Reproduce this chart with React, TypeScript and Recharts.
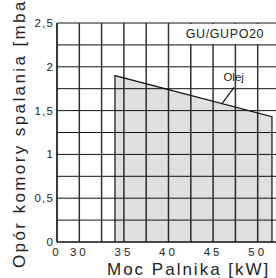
import React from 'react';
import {
  ComposedChart, Area, XAxis, YAxis, CartesianGrid, ReferenceLine, ReferenceArea, ReferenceDot, Label,
} from 'recharts';

// Burner power [kW] and combustion-chamber resistance [mbar] for the "Olej" envelope
const powerKW = [34, 34, 51.6, 51.6];
const resistanceMbar = [0, 1.9, 1.43, 0];

const xTicks = [27.5, 30, 32.5, 35, 37.5, 40, 42.5, 45, 47.5, 50, 52.5];
const yTicks = [0, 0.25, 0.5, 0.75, 1, 1.25, 1.5, 1.75, 2, 2.25, 2.5];

const seriesName = 'Olej';
const modelName = 'GU/GUPO20';
const xTitle = 'Moc Palnika [kW]';
const yTitle = 'Opór komory spalania [mbar]';

// pointer from "Olej" to the line
const pointerPower = [47.35, 45.96];
const pointerRes = [1.765, 1.575];
const seriesLabelAt = { x: 47.3, y: 1.885 };

const data = powerKW.map((p, i) => ({ p, r: resistanceMbar[i] }));

const FONT = '"Liberation Sans", Arial, sans-serif';

const fmtX = (v: number) => {
  if (v === 27.5) return '0';
  if (v % 5 === 0 && v <= 50) return String(v);
  return '';
};
const fmtY = (v: number) => (v % 0.5 === 0 ? String(v).replace('.', ',') : '');

export default function App() {
  return (
    <div style={{ position: 'absolute', left: 0, top: 0, width: 276, height: 278, overflow: 'hidden', background: '#fff' }}>
      <ComposedChart width={280} height={278} data={data} margin={{ top: 23, right: 0, bottom: 0, left: 0 }}>
        <CartesianGrid vertical={false} stroke="#111" strokeWidth={1} />
        <CartesianGrid horizontal={false} stroke="#333" strokeWidth={1.5} />
        <XAxis
          type="number"
          dataKey="p"
          domain={[27.5, 52.5]}
          ticks={xTicks}
          tickFormatter={fmtX}
          interval={0}
          height={36}
          tickLine={false}
          tickSize={6}
          tickMargin={0}
          axisLine={{ stroke: '#111', strokeWidth: 1 }}
          tick={{ fontSize: 11.5, fill: '#222', fontFamily: FONT, letterSpacing: 3 }}
          allowDataOverflow
        >
          <Label
            content={() => (
              <text x={107} y={275} fontSize={17} letterSpacing={2} fontFamily={FONT} fill="#222">
                {xTitle}
              </text>
            )}
          />
        </XAxis>
        <YAxis
          type="number"
          domain={[0, 2.5]}
          ticks={yTicks}
          tickFormatter={fmtY}
          interval={0}
          width={57}
          tickLine={false}
          tickSize={3}
          tickMargin={0}
          axisLine={{ stroke: '#111', strokeWidth: 1 }}
          tick={{ fontSize: 11.5, fill: '#222', fontFamily: FONT, letterSpacing: 1.2 }}
        >
          <Label
            content={() => (
              <text
                x={0}
                y={0}
                transform="translate(25,268) rotate(-90)"
                fontSize={17}
                letterSpacing={2.4}
                fontFamily={FONT}
                fill="#222"
              >
                {yTitle}
              </text>
            )}
          />
        </YAxis>
        <Area
          type="linear"
          dataKey="r"
          stroke="#111"
          strokeWidth={1.2}
          fill="#000"
          fillOpacity={0.12}
          isAnimationActive={false}
          dot={false}
          activeDot={false}
        />
        <ReferenceLine
          segment={[
            { x: pointerPower[0], y: pointerRes[0] },
            { x: pointerPower[1], y: pointerRes[1] },
          ]}
          stroke="#111"
          strokeWidth={1.2}
        />
        <ReferenceDot
          x={seriesLabelAt.x}
          y={seriesLabelAt.y}
          r={0}
          fill="none"
          stroke="none"
          label={{ value: seriesName, position: 'center', fontSize: 11.5, fill: '#222', fontFamily: FONT }}
        />
        <ReferenceArea
          x1={40.15}
          x2={52.5}
          y1={2.26}
          y2={2.49}
          fill="#fff"
          fillOpacity={1}
          stroke="none"
          label={{ value: modelName, position: 'center', fontSize: 12.5, fill: '#222', fontFamily: FONT, letterSpacing: 0.6 }}
        />
      </ComposedChart>
    </div>
  );
}
